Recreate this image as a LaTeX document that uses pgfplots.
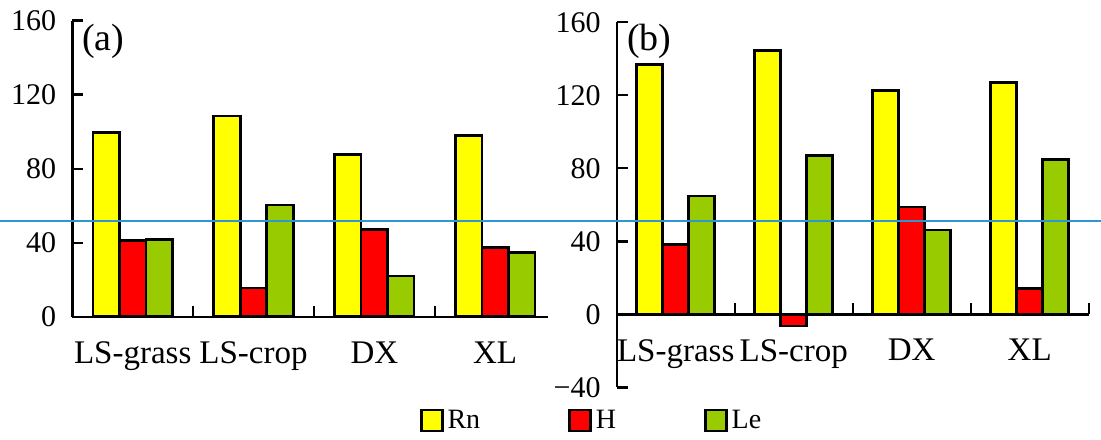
\documentclass[border=0pt]{standalone}
\usepackage{pgfplots}
\pgfplotsset{compat=1.18}
\usepackage{pgfplotstable}
\usepackage{fontspec}
\setmainfont{Liberation Serif}
\definecolor{cRn}{RGB}{255,255,0}
\definecolor{cH}{RGB}{255,0,0}
\definecolor{cLe}{RGB}{153,204,0}
\definecolor{bline}{RGB}{46,150,210}
\newcommand{\tf}{\fontsize{15}{17}\selectfont}

\pgfplotstableread{
x Rn H Le
0 99.5 41.2 41.6
1 108.5 15.6 60.4
2 87.8 47.0 21.9
3 98 37.3 34.6
}\dataA
\pgfplotstableread{
x Rn H Le
0 136.8 38.2 64.9
1 144.4 -6.4 87.1
2 122.6 58.9 46.1
3 127.1 14.1 84.9
}\dataB

\pgfplotsset{
 mystyle/.style={
  scale only axis,
  ybar=0pt,
  axis line style={line width=1.2pt, -},
  tick align=inside,
  xticklabels={},
  extra x ticks={0,1,2,3},
  extra x tick labels={LS-grass,LS-crop,DX,XL},
  extra x tick style={major tick length=0pt, tick style={draw=none}},
  tick style={line width=1.2pt, black},
  major tick length=5.5pt,
  yticklabel style={font=\tf, xshift=-4.5pt},
  xticklabel style={font=\fontsize{16.5}{18}\selectfont, yshift=-9pt},
 }
}

\begin{document}
\begin{tikzpicture}
\useasboundingbox (0,0) rectangle (550.5pt,219.5pt);
\begin{axis}[mystyle,
  at={(36.15pt,61.15pt)}, anchor=south west,
  width=238pt, height=148pt,
  xmin=-0.5, xmax=3.44,
  axis x line*=bottom, axis y line*=left,
  ymin=0, ymax=160, ytick={0,40,80,120,160},
  yticklabels={{\tf 0},{\tf 40},{\tf 80},{\tf 120},{\tf 160}},
  xtick={0.5,1.5,2.5},
  bar width=13.25pt,
  legend columns=3,
  legend style={at={(1.093,-0.3507)}, anchor=center, draw=none, fill=none,
    font=\fontsize{14}{16}\selectfont,
    /tikz/every even column/.append style={column sep=42pt}},
]
\addplot[fill=cRn, draw=black, line width=1.3pt, legend image code/.code={\draw[fill=cRn, draw=black, line width=1.3pt] (0pt,-5.25pt) rectangle (10.5pt,5.25pt);}] table[x=x,y=Rn] {\dataA};
\addplot[fill=cH, draw=black, line width=1.3pt, legend image code/.code={\draw[fill=cH, draw=black, line width=1.3pt] (0pt,-5.25pt) rectangle (10.5pt,5.25pt);}] table[x=x,y=H] {\dataA};
\addplot[fill=cLe, draw=black, line width=1.3pt, legend image code/.code={\draw[fill=cLe, draw=black, line width=1.3pt] (0pt,-5.25pt) rectangle (10.5pt,5.25pt);}] table[x=x,y=Le] {\dataA};
\legend{Rn,H,Le}
\node[font=\fontsize{19}{21}\selectfont] at (rel axis cs:0.065,0.929) {(a)};
\end{axis}
\begin{axis}[mystyle,
  at={(308.35pt,25.85pt)}, anchor=south west,
  width=236pt, height=182.5pt,
  xmin=-0.5, xmax=3.5,
  axis x line*=middle, axis y line*=left,
  ymin=-40, ymax=160, ytick={-40,0,40,80,120,160},
  yticklabels={{\tf −40},{\tf 0},{\tf 40},{\tf 80},{\tf 120},{\tf 160}},
  xtick={0.5,1.5,2.5,3.5},
  bar width=13pt,
  clip=false,
]
\addplot[fill=cRn, draw=black, line width=1.3pt] table[x=x,y=Rn] {\dataB};
\addplot[fill=cH, draw=black, line width=1.3pt] table[x=x,y=H] {\dataB};
\addplot[fill=cLe, draw=black, line width=1.3pt] table[x=x,y=Le] {\dataB};
\node[font=\fontsize{19}{21}\selectfont] at (rel axis cs:0.0689,0.947) {(b)};
\draw[bline, line width=1pt, overlay] (rel axis cs:-1.6,0.4564) -- (rel axis cs:1.3,0.4564);
\end{axis}
\end{tikzpicture}
\end{document}
